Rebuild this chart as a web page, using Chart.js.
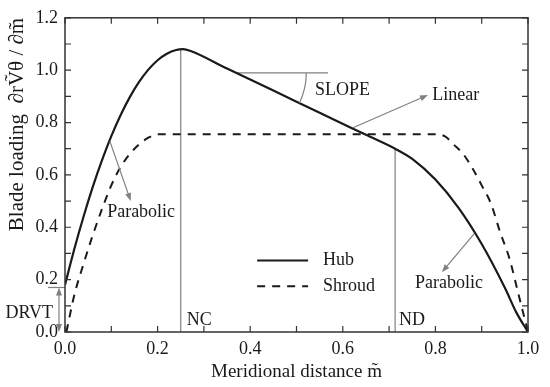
<!DOCTYPE html>
<html>
<head>
<meta charset="utf-8">
<script src="https://cdn.jsdelivr.net/npm/chart.js@4.4.1/dist/chart.umd.min.js"></script>
<style>
  html, body { margin: 0; padding: 0; background: #fff; }
  canvas { display: block; }
</style>
</head>
<body>
<canvas id="loadingChart" width="550" height="387"></canvas>
<script>
// Hub loading curve (meridional distance vs blade loading)
const hubM = [0.0, 0.02, 0.04, 0.06, 0.08, 0.10, 0.12, 0.14, 0.16, 0.18, 0.20, 0.22, 0.24, 0.255, 0.27,
              0.35, 0.45, 0.55, 0.65, 0.713, 0.75, 0.80, 0.85, 0.90, 0.95, 0.975, 1.0];
const hubLoad = [0.18, 0.316, 0.44, 0.554, 0.656, 0.748, 0.828, 0.897, 0.955, 1.002, 1.038, 1.063, 1.077, 1.08, 1.074,
                 1.006, 0.922, 0.837, 0.753, 0.70, 0.661, 0.582, 0.474, 0.336, 0.169, 0.074, 0.0];

// Shroud loading curve
const shroudM = [0.003, 0.02, 0.04, 0.06, 0.08, 0.10, 0.12, 0.14, 0.16, 0.18, 0.20, 0.80,
                 0.82, 0.84, 0.86, 0.88, 0.90, 0.92, 0.94, 0.96, 0.98, 1.0];
const shroudLoad = [0.0, 0.14, 0.26, 0.37, 0.47, 0.56, 0.63, 0.68, 0.717, 0.742, 0.755, 0.755,
                    0.748, 0.715, 0.68, 0.625, 0.56, 0.49, 0.38, 0.28, 0.14, 0.0];

// NC / ND marker lines and the slope reference line
const ncM = [0.25, 0.25];
const ncLoad = [0.0, 1.08];
const ndM = [0.713, 0.713];
const ndLoad = [0.0, 0.70];
const slopeM = [0.37, 0.568];
const slopeLoad = [0.99, 0.99];

const xTickLabels = ['0.0', '0.2', '0.4', '0.6', '0.8', '1.0'];
const yTickLabels = ['0.0', '0.2', '0.4', '0.6', '0.8', '1.0', '1.2'];

const zip = (xs, ys) => xs.map((x, i) => ({ x: x, y: ys[i] }));

const SERIF = "'Liberation Serif', 'Times New Roman', serif";
const GRAY = '#808080';
const INK = '#1a1a1a';

function arrow(ctx, x1, y1, x2, y2) {
    const a = Math.atan2(y2 - y1, x2 - x1);
    ctx.beginPath();
    ctx.moveTo(x1, y1);
    ctx.lineTo(x2 - 5 * Math.cos(a), y2 - 5 * Math.sin(a));
    ctx.stroke();
    ctx.beginPath();
    ctx.moveTo(x2, y2);
    ctx.lineTo(x2 - 8 * Math.cos(a) + 3 * Math.sin(a), y2 - 8 * Math.sin(a) - 3 * Math.cos(a));
    ctx.lineTo(x2 - 8 * Math.cos(a) - 3 * Math.sin(a), y2 - 8 * Math.sin(a) + 3 * Math.cos(a));
    ctx.closePath();
    ctx.fill();
}

// frame with inward ticks on all four sides
const framePlugin = {
    id: 'frame',
    afterDraw(chart) {
        const ctx = chart.ctx;
        const { left, right, top, bottom } = chart.chartArea;
        const xs = chart.scales.x, ys = chart.scales.y;
        ctx.save();
        ctx.strokeStyle = '#333';
        ctx.lineWidth = 1.5;
        ctx.strokeRect(left, top, right - left, bottom - top);
        ctx.lineWidth = 1.2;
        ctx.beginPath();
        xs.ticks.forEach(t => {
            const px = xs.getPixelForValue(t.value);
            ctx.moveTo(px, bottom); ctx.lineTo(px, bottom - 6);
            ctx.moveTo(px, top); ctx.lineTo(px, top + 6);
        });
        ys.ticks.forEach(t => {
            const py = ys.getPixelForValue(t.value);
            ctx.moveTo(left, py); ctx.lineTo(left + 6, py);
            ctx.moveTo(right, py); ctx.lineTo(right - 6, py);
        });
        ctx.stroke();
        ctx.restore();
    }
};

// text labels, arrows, slope arc, DRVT mark and legend
const notesPlugin = {
    id: 'notes',
    afterDatasetsDraw(chart) {
        const ctx = chart.ctx;
        const xs = chart.scales.x, ys = chart.scales.y;
        const X = v => xs.getPixelForValue(v);
        const Y = v => ys.getPixelForValue(v);
        const left = chart.chartArea.left;
        ctx.save();
        ctx.font = '18px ' + SERIF;
        ctx.fillStyle = INK;
        ctx.textBaseline = 'middle';
        ctx.textAlign = 'left';
        ctx.fillText('NC', X(0.25) + 6, Y(0.045));
        ctx.fillText('ND', X(0.713) + 4, Y(0.045));
        ctx.fillText('SLOPE', X(0.54), Y(0.924));
        ctx.fillText('Linear', X(0.793), Y(0.905));
        ctx.fillText('Parabolic', X(0.091), Y(0.456));
        ctx.fillText('Parabolic', X(0.756), Y(0.186));
        ctx.textAlign = 'right';
        ctx.fillText('DRVT', left - 12, Y(0.072));

        ctx.strokeStyle = GRAY;
        ctx.fillStyle = GRAY;
        ctx.lineWidth = 1.2;
        arrow(ctx, X(0.622), Y(0.78), X(0.784), Y(0.905));
        arrow(ctx, X(0.097), Y(0.728), X(0.142), Y(0.50));
        arrow(ctx, X(0.884), Y(0.376), X(0.814), Y(0.228));

        // slope arc
        ctx.beginPath();
        ctx.arc(X(0.37), Y(0.99), 70, 0, Math.atan(0.845 * (Y(0) - Y(1)) / (X(1) - X(0))));
        ctx.stroke();

        // DRVT double arrow
        const dx = left - 6;
        arrow(ctx, dx, Y(0.09), dx, Y(0.17));
        arrow(ctx, dx, Y(0.09), dx, Y(0.0));
        ctx.beginPath();
        ctx.moveTo(left - 17, Y(0.17));
        ctx.lineTo(left, Y(0.17));
        ctx.stroke();

        // legend
        const ds = chart.data.datasets;
        const lx0 = X(0.415), lx1 = X(0.525);
        [[0, 0.273], [1, 0.175]].forEach(([i, yv]) => {
            const d = ds[i];
            ctx.strokeStyle = d.borderColor;
            ctx.lineWidth = d.borderWidth;
            ctx.setLineDash(d.borderDash || []);
            ctx.beginPath();
            ctx.moveTo(lx0, Y(yv));
            ctx.lineTo(lx1, Y(yv));
            ctx.stroke();
            ctx.setLineDash([]);
            ctx.fillStyle = INK;
            ctx.textAlign = 'left';
            ctx.fillText(d.label, X(0.557), Y(yv));
        });
        ctx.restore();
    }
};

new Chart(document.getElementById('loadingChart').getContext('2d'), {
    type: 'line',
    data: {
        datasets: [
            {
                label: 'Hub',
                data: zip(hubM, hubLoad),
                borderColor: INK,
                borderWidth: 2.2,
                cubicInterpolationMode: 'monotone',
                pointRadius: 0
            },
            {
                label: 'Shroud',
                data: zip(shroudM, shroudLoad),
                borderColor: INK,
                borderWidth: 2,
                borderDash: [8, 7],
                cubicInterpolationMode: 'monotone',
                pointRadius: 0
            },
            { label: 'NC', data: zip(ncM, ncLoad), borderColor: GRAY, borderWidth: 1.2, pointRadius: 0 },
            { label: 'ND', data: zip(ndM, ndLoad), borderColor: GRAY, borderWidth: 1.2, pointRadius: 0 },
            { label: 'Slope', data: zip(slopeM, slopeLoad), borderColor: GRAY, borderWidth: 1.2, pointRadius: 0 }
        ]
    },
    options: {
        responsive: false,
        animation: false,
        devicePixelRatio: 1,
        layout: { padding: { top: 16, right: 22, left: 0, bottom: 0 } },
        plugins: {
            legend: { display: false },
            tooltip: { enabled: false }
        },
        scales: {
            x: {
                type: 'linear',
                min: 0,
                max: 1,
                grid: { display: false, drawTicks: false },
                border: { display: false },
                ticks: {
                    stepSize: 0.1,
                    autoSkip: false,
                    maxRotation: 0,
                    padding: 6,
                    color: INK,
                    font: { family: SERIF, size: 18 },
                    callback: (v, i) => (i % 2 ? '' : xTickLabels[i / 2])
                },
                title: {
                    display: true,
                    text: 'Meridional distance m\u0303',
                    color: INK,
                    font: { family: SERIF, size: 19 },
                    padding: { top: 0, bottom: 4 }
                },
                afterFit: scale => { scale.height = 55; }
            },
            y: {
                type: 'linear',
                min: 0,
                max: 1.2,
                grid: { display: false, drawTicks: false },
                border: { display: false },
                ticks: {
                    stepSize: 0.1,
                    autoSkip: false,
                    padding: 7,
                    color: INK,
                    font: { family: SERIF, size: 18 },
                    callback: (v, i) => (i % 2 ? '' : yTickLabels[i / 2])
                },
                title: {
                    display: true,
                    align: 'end',
                    text: 'Blade loading  \u2202rV\u0303\u03b8 / \u2202m\u0303',
                    color: INK,
                    font: { family: SERIF, size: 21 },
                    padding: { top: 5, bottom: 0 }
                },
                afterFit: scale => { scale.width = 65; }
            }
        }
    },
    plugins: [framePlugin, notesPlugin]
});
</script>
</body>
</html>
